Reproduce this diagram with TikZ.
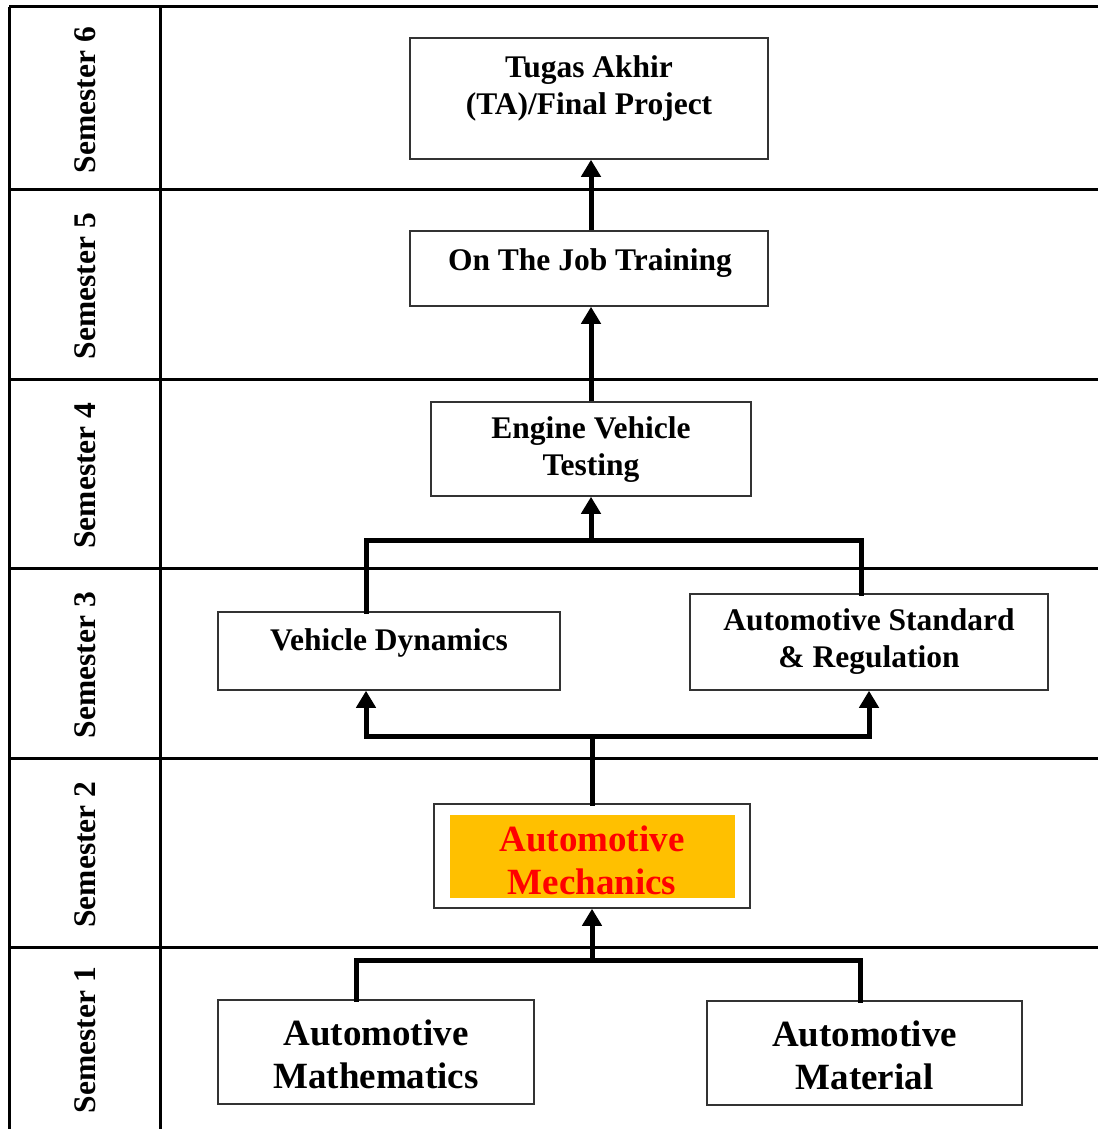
\documentclass[tikz,border=0pt]{standalone}
\usepackage{fontspec}
\setmainfont{Liberation Serif}
\usetikzlibrary{arrows.meta,calc}
\definecolor{amber}{HTML}{FFC000}
\definecolor{boxline}{HTML}{333333}
\begin{document}
\begin{tikzpicture}[x=1pt,y=-1pt,
  grid/.style={line width=3pt,black},
  box/.style={draw=boxline,line width=1.5pt,fill=white,rectangle,inner sep=0pt},
  lbl/.style={align=center,font=\fontsize{31.5}{37}\selectfont\bfseries},
  biglbl/.style={align=center,font=\fontsize{37}{43}\selectfont\bfseries},
  sem/.style={rotate=90,font=\fontsize{31.5}{36}\selectfont\bfseries},
  conn/.style={line width=5pt,black,line cap=rect},
  arr/.style={line width=5pt,black,-{Triangle[width=19pt,length=17pt]}}
]
\useasboundingbox (0,0) rectangle (1098,1129);
% table
\draw[grid] (9,7) -- (9,1129);
\draw[grid] (160,7) -- (160,1129);
\foreach \yy in {7,189,379,568,758,947} {
  \draw[grid] (9,\yy) -- (1098,\yy);
}
% semester labels
\node[sem] (s6) at (85,100) {Semester 6};
\node[sem] (s5) at (85,286) {Semester 5};
\node[sem] (s4) at (85,475.5) {Semester 4};
\node[sem] (s3) at (85,665) {Semester 3};
\node[sem] (s2) at (85,854.5) {Semester 2};
\node[sem] (s1) at (85,1040) {Semester 1};
% boxes
\node[box,minimum width=358,minimum height=121] (ta) at (589,98.5) {};
\node[lbl] (tal) at (589,88) {Tugas Akhir\\(TA)/Final Project};
\node[box,minimum width=358,minimum height=75] (ojt) at (589,268.5) {};
\node[lbl] (ojtl) at (590,263) {On The Job Training};
\node[box,minimum width=320,minimum height=94] (evt) at (591,449) {};
\node[lbl] (evtl) at (591,450) {Engine Vehicle\\Testing};
\node[box,minimum width=342,minimum height=78] (vd) at (389,651) {};
\node[lbl] (vdl) at (389,643) {Vehicle Dynamics};
\node[box,minimum width=358,minimum height=96] (asr) at (869,642) {};
\node[lbl] (asrl) at (869,642) {Automotive Standard\\\& Regulation};
\node[box,minimum width=316,minimum height=104] (am) at (592,856) {};
\node[fill=amber,minimum width=285,minimum height=83,inner sep=0pt] (amin) at (592.5,856.5) {};
\node[biglbl,text=red] (aml) at (592,860) {Automotive\\Mechanics};
\node[box,minimum width=316,minimum height=104] (math) at (376,1052) {};
\node[biglbl] (mathl) at (376,1054) {Automotive\\Mathematics};
\node[box,minimum width=315,minimum height=104] (mat) at (864.5,1053) {};
\node[biglbl] (matl) at (864.5,1055) {Automotive\\Material};
% connectors
\draw[arr] ([xshift=2]ojt.north) -- ([xshift=2]ta.south);
\draw[arr] (evt.north) -- ([xshift=2]ojt.south);
\coordinate (k3) at (591,540);
\draw[conn] ([xshift=-23]vd.north) |- (k3) -| ([xshift=-8]asr.north);
\draw[arr] (k3) -- (evt.south);
\coordinate (k2) at (592,736);
\draw[conn] (am.north) -- (k2);
\draw[arr] (k2) -| ([xshift=-23]vd.south);
\draw[arr] (k2) -| (asr.south);
\coordinate (k1) at (592,960);
\draw[conn] ([xshift=-20]math.north) |- (k1) -| ([xshift=-4.5]mat.north);
\draw[arr] (k1) -- (am.south);
\end{tikzpicture}
\end{document}
